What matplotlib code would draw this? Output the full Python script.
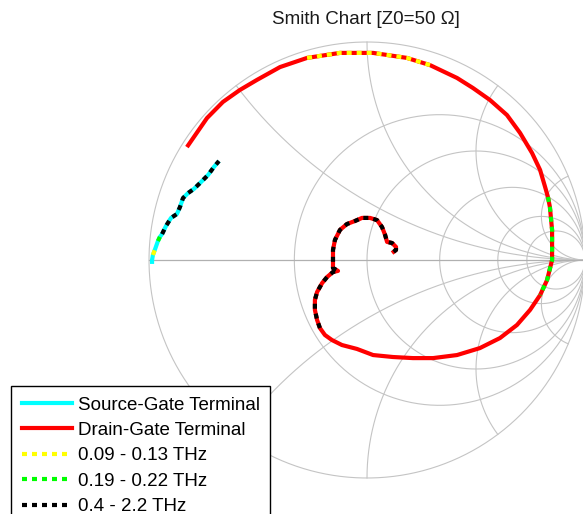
import numpy as np
import matplotlib
matplotlib.use("Agg")
import matplotlib.pyplot as plt
from matplotlib.lines import Line2D

plt.rcParams["font.family"] = ["Liberation Sans", "DejaVu Sans"]

# reflection coefficient of the drain-gate terminal, in sweep order
drain_re = [-0.826, -0.734, -0.661, -0.583, -0.505, -0.399, -0.275, -0.124, 0.028, 0.183,
            0.289, 0.413, 0.486, 0.564, 0.642, 0.702, 0.757, 0.794, 0.817, 0.830,
            0.839, 0.849, 0.849, 0.826, 0.794, 0.748, 0.688, 0.610, 0.518, 0.413,
            0.303, 0.211, 0.119, 0.028, -0.046, -0.115, -0.161, -0.193, -0.216, -0.229,
            -0.239, -0.239, -0.229, -0.206, -0.183, -0.156, -0.133, -0.156, -0.156, -0.156,
            -0.147, -0.124, -0.092, -0.055, -0.023, 0.014, 0.046, 0.069, 0.083, 0.092,
            0.115, 0.133, 0.133, 0.115]
drain_im = [0.518, 0.651, 0.725, 0.780, 0.826, 0.885, 0.927, 0.950, 0.950, 0.927,
            0.894, 0.835, 0.789, 0.734, 0.665, 0.583, 0.491, 0.413, 0.335, 0.289,
            0.243, 0.138, 0.000, -0.092, -0.161, -0.229, -0.298, -0.358, -0.404, -0.436,
            -0.450, -0.450, -0.445, -0.436, -0.408, -0.390, -0.367, -0.344, -0.312, -0.275,
            -0.229, -0.183, -0.147, -0.106, -0.078, -0.055, -0.050, -0.037, -0.009, 0.046,
            0.092, 0.138, 0.165, 0.179, 0.193, 0.193, 0.183, 0.151, 0.115, 0.083,
            0.078, 0.060, 0.046, 0.032]

# reflection coefficient of the source-gate terminal, in sweep order
source_re = [-0.986, -0.986, -0.982, -0.972, -0.959, -0.950, -0.940, -0.922, -0.899,
             -0.872, -0.858, -0.844, -0.821, -0.794, -0.766, -0.729, -0.702, -0.679]
source_im = [-0.018, 0.000, 0.023, 0.050, 0.087, 0.106, 0.119, 0.156, 0.193,
             0.211, 0.243, 0.284, 0.307, 0.326, 0.353, 0.390, 0.427, 0.454]

# frequency bands marked on both traces: sweep index (first, last)
band_labels = ["0.09 - 0.13 THz", "0.19 - 0.22 THz", "0.4 - 2.2 THz"]
band_colors = ["#ffff00", "#00ff00", "#000000"]
drain_bands = [(6, 10), (19, 24), (38, 63)]
source_bands = [(2, 3), (4, 5), (6, 17)]

# smith chart grid values
r_values = [0, 0.5, 1, 2, 4, 6.5]
x_values = [0.5, 1, 2, 5]

fig = plt.figure(figsize=(5.83, 5.14), dpi=100)
ax = fig.add_axes([0, 0, 1, 1])
ax.set_xlim(-367 / 218, 216 / 218)
ax.set_ylim(-254 / 218, 260 / 218)
ax.set_aspect("equal")
ax.axis("off")

grid_c = "#c4c4c4"
t = np.linspace(0, 2 * np.pi, 721)
for r in r_values:
    c, rad = r / (1 + r), 1 / (1 + r)
    ax.plot(c + rad * np.cos(t), rad * np.sin(t), color=grid_c, lw=0.8, zorder=1)
rr = np.concatenate([[0], np.logspace(-3, 4, 600)])
for x in x_values:
    for s in (1, -1):
        g = (rr + 1j * s * x - 1) / (rr + 1j * s * x + 1)
        ax.plot(g.real, g.imag, color=grid_c, lw=0.8, zorder=1)
ax.plot([-1, 1], [0, 0], color="#b0b0b0", lw=0.9, zorder=1)

lw = 3
dots = (0, (1.2, 1.2))
ax.plot(source_re, source_im, color="#00ffff", lw=lw, zorder=2, solid_capstyle="butt")
ax.plot(drain_re, drain_im, color="#ff0000", lw=lw, zorder=2, solid_capstyle="butt")
for col, db, sb in zip(band_colors, drain_bands, source_bands):
    for (a, b), re, im in ((db, drain_re, drain_im), (sb, source_re, source_im)):
        ax.plot(re[a:b + 1], im[a:b + 1], color=col, lw=lw, ls=dots, zorder=3)

handles = [Line2D([], [], color="#00ffff", lw=lw),
           Line2D([], [], color="#ff0000", lw=lw)]
handles += [Line2D([], [], color=c, lw=lw, ls=dots) for c in band_colors]
labels = ["Source-Gate Terminal", "Drain-Gate Terminal"] + band_labels
leg = fig.legend(handles, labels, loc="upper left",
                 bbox_to_anchor=(11 / 583, 1 - 386 / 514),
                 fontsize=13.5, frameon=True, fancybox=False, framealpha=1,
                 edgecolor="black", borderpad=0.56, labelspacing=0.44,
                 handlelength=2.7, handletextpad=0.3, borderaxespad=0)
leg.get_frame().set_linewidth(1.0)

fig.text(366 / 583, 1 - 20 / 514, "Smith Chart [Z0=50 \u03a9]", ha="center",
         va="center", fontsize=13.5, color="#1a1a1a")

fig.savefig("out.png", dpi=100)
